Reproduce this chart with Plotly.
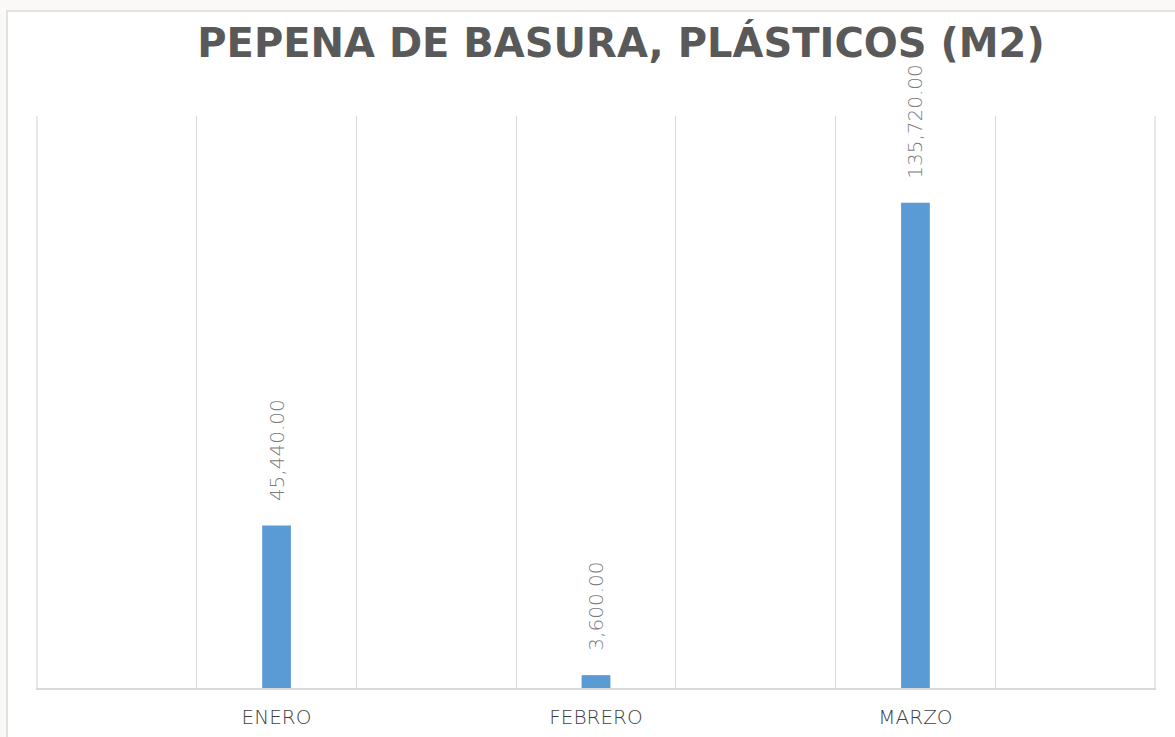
import plotly.graph_objects as go

categories = ["ENERO", "FEBRERO", "MARZO"]
values = [45440.00, 3600.00, 135720.00]
title_text = "PEPENA DE BASURA, PLÁSTICOS (M2)"

# each month sits in the middle of a two-slot band (Excel-like layout with 7 gridline cells)
n_slots = 2 * len(categories) + 1
positions = [2 * i + 1.5 for i in range(len(categories))]
labels = [f"{v:,.2f}" for v in values]

W, H = 1175, 737
L, R, T, B = 36, 19, 116, 49

fig = go.Figure()
fig.add_trace(go.Bar(
    x=positions, y=values, width=0.18,
    marker=dict(color="#5B9BD5", line=dict(width=0)),
    hoverinfo="skip",
))

for x, v, t in zip(positions, values, labels):
    fig.add_annotation(
        x=x, y=v, xref="x", yref="y", text=t, showarrow=False,
        textangle=-90, yanchor="bottom", xanchor="center", yshift=22,
        font=dict(family="DejaVu Sans", size=20, color="#7A7A7A", weight=200),
    )

# outer chart frame
fig.add_shape(type="rect", xref="paper", yref="paper",
              x0=(7 - L) / (W - L - R), x1=(W + 10 - L) / (W - L - R),
              y0=-(H + 10 - (H - B)) / (H - T - B), y1=1 + (T - 11) / (H - T - B),
              line=dict(color="#D9D9D9", width=1.5), fillcolor="white", layer="below")

# edge gridlines (plotly suppresses the ones on the plot edges)
for xe in (0, n_slots):
    fig.add_shape(type="line", xref="x", yref="paper", x0=xe, x1=xe, y0=0, y1=1,
                  line=dict(color="#D9D9D9", width=1.2), layer="below")

fig.update_layout(
    width=W, height=H,
    margin=dict(l=L, r=R, t=T, b=B, pad=0, autoexpand=False),
    paper_bgcolor="#FAF9F7", plot_bgcolor="white",
    showlegend=False,
    title=dict(text=title_text, x=621 / W, xref="container", xanchor="center",
               y=1 - 43 / H, yref="container", yanchor="middle",
               font=dict(family="DejaVu Sans", size=40, color="#595959", weight="bold")),
    xaxis=dict(range=[-0.006, n_slots + 0.006], tickmode="array", tickvals=positions,
               ticktext=categories,
               showgrid=False, zeroline=False, showline=True, linecolor="#D9D9D9", linewidth=1.5,
               ticks="", ticklabelstandoff=10, automargin=False,
               tickfont=dict(family="DejaVu Sans", size=20, color="#3F3F3F", weight=200),
               minor=dict(tickmode="linear", tick0=0, dtick=1, showgrid=True,
                          gridcolor="#D9D9D9", gridwidth=1.2, ticks="")),
    yaxis=dict(range=[0, 160000], visible=False, showgrid=False, zeroline=False, automargin=False),
)

fig.write_html("out.html", config={"displayModeBar": False},
               post_script="document.body.style.margin='0';document.body.style.overflow='hidden';")
